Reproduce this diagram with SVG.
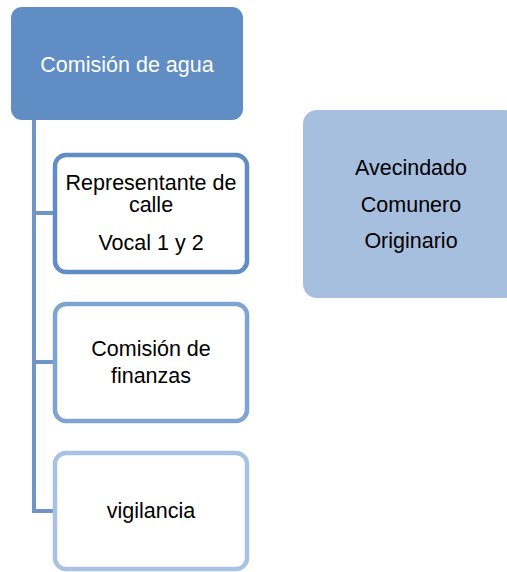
<svg xmlns="http://www.w3.org/2000/svg" width="507" height="572" viewBox="0 0 507 572">
<style>
text{font-family:"Liberation Sans",Arial,sans-serif;font-size:21.5px;text-anchor:middle;fill:#000}
.sub{fill:#fff;stroke-width:4.5}
.conn{stroke:#6f94c8;stroke-width:4;fill:none}
</style>
<rect width="507" height="572" fill="#fff"/>
<g id="connectors">
<path class="conn" d="M34 120 V513 M32 213 H56 M32 362 H56 M32 511 H56"/>
</g>
<g id="comision-agua">
<rect x="11" y="7" width="232" height="113" rx="11" fill="#5f8dc4"/>
<text x="127" y="72" style="fill:#fff">Comisión de agua</text>
</g>
<g id="representante">
<rect class="sub" x="55" y="155" width="192" height="117" rx="11" stroke="#5f8dc4"/>
<text x="151" y="190">Representante de</text>
<text x="151" y="212">calle</text>
<text x="151" y="250">Vocal 1 y 2</text>
</g>
<g id="finanzas">
<rect class="sub" x="55" y="304" width="192" height="117" rx="11" stroke="#80a4d0"/>
<text x="151" y="356">Comisión de</text>
<text x="151" y="383">finanzas</text>
</g>
<g id="vigilancia">
<rect class="sub" x="55" y="453" width="192" height="116" rx="11" stroke="#a9c2e1"/>
<text x="151" y="518">vigilancia</text>
</g>
<g id="avecindado">
<rect x="303" y="110" width="216" height="188" rx="14" fill="#a7bfdf"/>
<text x="411" y="175">Avecindado</text>
<text x="411" y="212">Comunero</text>
<text x="411" y="248">Originario</text>
</g>
</svg>
